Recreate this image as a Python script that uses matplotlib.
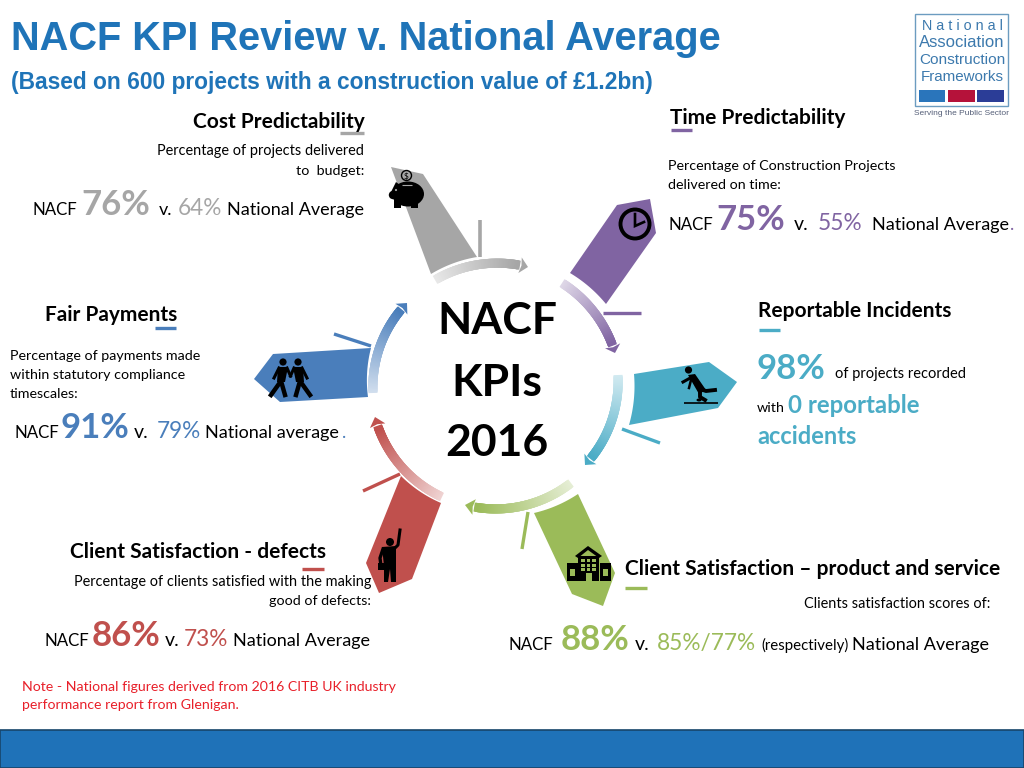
import numpy as np
import matplotlib
matplotlib.use('Agg')
import matplotlib.pyplot as plt
from matplotlib.collections import LineCollection
from matplotlib.colors import to_rgb
from matplotlib.patches import Circle, Ellipse, Polygon, Rectangle

plt.rcParams['font.family'] = ['Lato', 'DejaVu Sans']

GREY = '#a6a6a6'
PURPLE = '#8064a2'
TEAL = '#4bacc6'
GREEN = '#9bbb59'
RED = '#c0504d'
BLUE = '#4a7ebb'
TITLE_BLUE = '#1f74b8'

# kpi values
cost_nacf, cost_national = 76, 64
time_nacf, time_national = 75, 55
incidents_nacf = 98
service_nacf, service_national = 88, '85%/77%'
defects_nacf, defects_national = 86, 73
payments_nacf, payments_national = 91, 79

CENTER = np.array([494.0, 387.0])

fig = plt.figure(figsize=(10.24, 7.68), dpi=100)
ax = fig.add_axes([0, 0, 1, 1])
ax.set_xlim(0, 1024)
ax.set_ylim(768, 0)
ax.axis('off')


def put(x, y, s, size=10.3, color='black', ha='left', weight='normal', family=None):
    ax.text(x, y, s, fontsize=size, color=color, ha=ha, va='baseline',
            fontweight=weight, family=family if family else ['Lato', 'DejaVu Sans'])


def polar_points(p0, p1, n=40):
    # walk from p0 to p1 round the centre of the ring
    d0, d1 = np.array(p0) - CENTER, np.array(p1) - CENTER
    a0, a1 = np.arctan2(d0[1], d0[0]), np.arctan2(d1[1], d1[0])
    if a1 - a0 > np.pi:
        a1 -= 2 * np.pi
    if a1 - a0 < -np.pi:
        a1 += 2 * np.pi
    t = np.linspace(0, 1, n)
    ang = a0 + (a1 - a0) * t
    rad = np.hypot(*d0) + (np.hypot(*d1) - np.hypot(*d0)) * t
    return CENTER + np.column_stack([rad * np.cos(ang), rad * np.sin(ang)])


def ring_arrow(start, tip, color, lw=6.5):
    pts = polar_points(start, tip, 120)
    shaft = pts[:-10]
    # segments overlap by a few steps so no seams show in the fade
    segs = np.stack([shaft[:-4], shaft[4:]], axis=1)
    base = np.array(to_rgb(color))
    cols = []
    for t in np.linspace(0, 1, len(segs)):
        f = 0.25 + 0.75 * t
        cols.append(tuple(1 - (1 - base) * f))
    ax.add_collection(LineCollection(segs, colors=cols, linewidths=lw, capstyle='butt'))
    end = shaft[-1]
    d = pts[-1] - end
    d = d / np.hypot(*d)
    n = np.array([-d[1], d[0]])
    ax.add_patch(Polygon([end + n * 8, pts[-1], end - n * 8, end + d * 1.5], closed=True,
                         color=color, lw=0))


def tag(outer, edge0, edge1, color):
    # arrow shaped tag, with inner edge following the ring
    ax.add_patch(Polygon(list(outer) + list(polar_points(edge0, edge1, 20)), closed=True,
                         color=color, lw=0))


def line(x0, y0, x1, y1, color, lw=2.4):
    ax.plot([x0, x1], [y0, y1], color=color, lw=lw, solid_capstyle='butt')


def piggy():
    ax.add_patch(Ellipse((408, 194), 32, 25, color='black', lw=0))
    ax.add_patch(Polygon([(391, 192), (396, 182), (404, 188)], color='black', lw=0))
    ax.add_patch(Circle((393, 195), 4.2, color='black', lw=0))
    for x in (397, 414):
        ax.add_patch(Rectangle((x - 3.5, 200), 7.5, 8, color='black', lw=0))
    ax.add_patch(Circle((396, 190), 1.1, color=GREY, lw=0))
    line(402, 185, 412, 185, GREY, 0.8)
    ax.add_patch(Circle((406.5, 175.5), 5, fc='none', ec='black', lw=1))
    put(406.5, 178.5, '$', 6, 'black', 'center')


def clock():
    ax.add_patch(Circle((635, 224), 14.5, fc='none', ec='black', lw=2.8))
    ax.plot([635, 635, 644], [214, 226, 222], color='black', lw=1.9, solid_joinstyle='miter')


def falling():
    ax.add_patch(Circle((688.5, 370), 3.6, color='black', lw=0))
    ax.add_patch(Polygon([(688, 375), (695, 374), (706, 390), (699, 394)], color='black', lw=0))
    ax.plot([683, 692], [382, 377], color='black', lw=2.2)
    ax.plot([689, 691, 694], [388, 380, 379], color='black', lw=1.8)
    ax.plot([700, 706, 715], [389, 391, 390], color='black', lw=2.8)
    ax.plot([700, 700, 705], [391, 397, 400], color='black', lw=2.8)
    line(684, 402.5, 718, 402.5, 'black', 1.2)
    ax.add_patch(Ellipse((699, 400), 5, 3, color='black', lw=0))


def building():
    ax.add_patch(Polygon([(575, 556), (588, 546), (602, 556), (599, 558), (588, 550), (578, 558)],
                         color='black', lw=0))
    ax.add_patch(Rectangle((578, 556), 21, 25, color='black', lw=0))
    for x in (567, 600):
        ax.add_patch(Rectangle((x, 563), 11, 18, color='black', lw=0))
        ax.add_patch(Rectangle((x + 3, 569), 5, 7, color=GREEN, lw=0))
    for x in (581, 586.5, 592):
        for y in (558.5, 563.5, 568):
            ax.add_patch(Rectangle((x, y), 3.6, 3.2, color=GREEN, lw=0))
    ax.add_patch(Rectangle((585.5, 573), 6, 8, color=GREEN, lw=0))


def painter():
    ax.add_patch(Circle((390, 542), 4, color='black', lw=0))
    ax.add_patch(Polygon([(382, 547), (396, 546), (396, 567), (396, 582), (391, 582), (390, 569),
                          (388, 582), (384, 582), (384, 566)], color='black', lw=0))
    ax.plot([395, 398, 400], [548, 545, 530], color='black', lw=2.2)
    ax.plot([383, 380, 381], [549, 558, 566], color='black', lw=2.4)
    ax.add_patch(Rectangle((378, 563), 7, 7, color='black', lw=0))


def walker(x, side):
    # side -1 for the figure on the left, +1 for the right one
    ax.add_patch(Circle((x, 362), 3.6, color='black', lw=0))
    ax.add_patch(Polygon([(x - 5, 367), (x + 5, 367), (x + 4 + 2 * side, 382), (x - 4 + 2 * side, 382)],
                         color='black', lw=0))
    ax.plot([x + 2 * side, x + 12 * side], [381, 395], color='black', lw=3.2)
    ax.plot([x + 2 * side, x - 2 * side], [381, 395], color='black', lw=3.2)
    ax.plot([x + 4 * side, x + 9 * side], [368, 378], color='black', lw=2.2)
    ax.plot([x - 4 * side, 290.5], [368, 376], color='black', lw=2.2)


# ring arrows
ring_arrow((435, 280), (528, 267), GREY)
ring_arrow((562, 283), (615, 353), PURPLE)
ring_arrow((618, 375), (585, 465), TEAL)
ring_arrow((571, 483), (465, 505), GREEN)
ring_arrow((442, 497), (375, 417), RED)
ring_arrow((373, 393), (407, 303), BLUE)

# tags
tag([(391, 167), (423, 174), (477, 257)], (477, 257), (431, 274), GREY)
tag([(617, 205), (650, 199), (656, 233), (606, 304)], (606, 304), (570, 273), PURPLE)
tag([(709, 362), (737, 382), (718, 408), (629, 425)], (629, 425), (634, 374), TEAL)
tag([(578, 494), (615, 573), (603, 606), (572, 594), (534, 513)], (534, 513), (578, 494), GREEN)
tag([(441, 503), (412, 579), (379, 593), (366, 563), (401, 476)], (401, 476), (441, 503), RED)
tag([(273, 354), (254, 379), (280, 402), (368, 397)], (368, 397), (371, 348), BLUE)

# ticks
line(480, 220, 480, 257, GREY, 2.6)
line(603, 313, 641, 313, PURPLE)
line(622, 429, 660, 443, TEAL)
line(528, 512, 522, 549, GREEN)
line(400, 474, 363, 491, RED)
line(371, 346, 334, 334, BLUE)

piggy()
clock()
falling()
building()
painter()
walker(283, -1)
walker(298, 1)

# header
put(11, 50, 'NACF KPI Review v. National Average', 28.65, TITLE_BLUE, weight='bold', family='Liberation Sans')
put(11, 89, '(Based on 600 projects with a construction value of £1.2bn)', 16.4, TITLE_BLUE,
    weight='bold', family='Liberation Sans')

# logo
ax.add_patch(Rectangle((915, 14), 93, 92, fc='white', ec='#6c9cc0', lw=1))
logo_blue = '#3c79ad'
put(962, 30, 'N a t i o n a l', 10.4, logo_blue, 'center', family='Liberation Sans')
put(962, 47, 'Association', 12, logo_blue, 'center', family='Liberation Sans')
put(962, 64, 'Construction', 11.1, logo_blue, 'center', family='Liberation Sans')
put(962, 81, 'Frameworks', 10.9, logo_blue, 'center', family='Liberation Sans')
ax.add_patch(Rectangle((919, 90), 26, 12, color='#2a75bb', lw=0))
ax.add_patch(Rectangle((948, 90), 27, 12, color='#b5123a', lw=0))
ax.add_patch(Rectangle((977, 90), 27, 12, color='#2b3d97', lw=0))
put(961.5, 115, 'Serving the Public Sector', 6, '#555f78', 'center', family='Liberation Sans')

# centre
put(497, 334, 'NACF', 32, ha='center', weight='bold')
put(497, 396, 'KPIs', 32, ha='center', weight='bold')
put(497, 456, '2016', 32, ha='center', weight='bold')

HEAD = 15
BODY = 10.3
ROW = 13
NACF = 12.2
VS = 14
BIG = 25
MID = 16.3

# cost
put(365, 128, 'Cost Predictability', HEAD, ha='right', weight='bold')
line(340, 133, 364, 133, GREY)
put(364, 155, 'Percentage of projects delivered', 10.45, ha='right')
put(364, 175, 'to  budget:', BODY, ha='right')
put(33, 215, 'NACF', NACF)
put(81, 215, f'{cost_nacf}%', BIG, GREY, weight='bold')
put(159, 215, 'v.', ROW)
put(178, 215, f'{cost_national}%', MID, GREY)
put(364, 215, 'National Average', ROW, ha='right')

# time
put(670, 124, 'Time Predictability', HEAD, weight='bold')
line(671, 130, 692, 130, PURPLE)
put(668, 170, 'Percentage of Construction Projects', BODY)
put(668, 189, 'delivered on time:', BODY)
put(668, 230, 'NACF', NACF)
put(716, 230, f'{time_nacf}%', BIG, PURPLE, weight='bold')
put(794, 230, 'v.', VS)
put(818, 230, f'{time_national}%', MID, PURPLE)
put(872, 230, 'National Average', ROW)
put(1010, 230, '.', ROW, PURPLE)

# incidents
put(758, 317, 'Reportable Incidents', HEAD, weight='bold')
line(759, 330, 780, 330, TEAL)
put(757, 379, f'{incidents_nacf}%', BIG, TEAL, weight='bold')
put(835, 378, 'of projects recorded', 10.5)
put(757, 412, 'with', BODY)
put(788, 413, '0 reportable', 17.3, TEAL, weight='bold')
put(757, 444, 'accidents', 17, TEAL, weight='bold')

# payments
put(45, 321, 'Fair Payments', HEAD, weight='bold')
line(155, 328, 176, 328, BLUE)
put(10, 360, 'Percentage of payments made', BODY)
put(10, 379, 'within statutory compliance', BODY)
put(10, 398, 'timescales:', BODY)
put(14, 438, 'NACF', NACF)
put(61, 438, f'{payments_nacf}%', BIG, BLUE, weight='bold')
put(134, 438, 'v.', VS)
put(157, 438, f'{payments_national}%', MID, BLUE)
put(205, 438, 'National average', ROW)
put(342, 438, '.', ROW, BLUE)

# defects
put(70, 558, 'Client Satisfaction - defects', HEAD, weight='bold')
line(302, 569, 324, 569, RED)
put(371, 586, 'Percentage of clients satisfied with the making', 10.45, ha='right')
put(371, 605, 'good of defects:', BODY, ha='right')
put(45, 646, 'NACF', NACF)
put(92, 646, f'{defects_nacf}%', BIG, RED, weight='bold')
put(165, 646, 'v.', VS)
put(184, 646, f'{defects_national}%', MID, RED)
put(370, 646, 'National Average', ROW, ha='right')

# service
put(625, 575, 'Client Satisfaction – product and service', HEAD, weight='bold')
line(625, 588, 647, 588, GREEN)
put(990, 608, 'Clients satisfaction scores of:', 10.45, ha='right')
put(508, 650, 'NACF', NACF)
put(561, 650, f'{service_nacf}%', BIG, GREEN, weight='bold')
put(635, 650, 'v.', VS)
put(657, 650, service_national, MID, GREEN)
put(761, 650, '(respectively)', 10.8)
put(989, 650, 'National Average', ROW, ha='right')

# note
put(22, 691, 'Note - National figures derived from 2016 CITB UK industry', 10.2, '#e8202a')
put(22, 709, 'performance report from Glenigan.', 10.2, '#e8202a')

# footer
ax.add_patch(Rectangle((0, 730), 1024, 38, fc='#1f72b8', ec='#17456b', lw=1.2))

fig.savefig('out.png', dpi=100)
